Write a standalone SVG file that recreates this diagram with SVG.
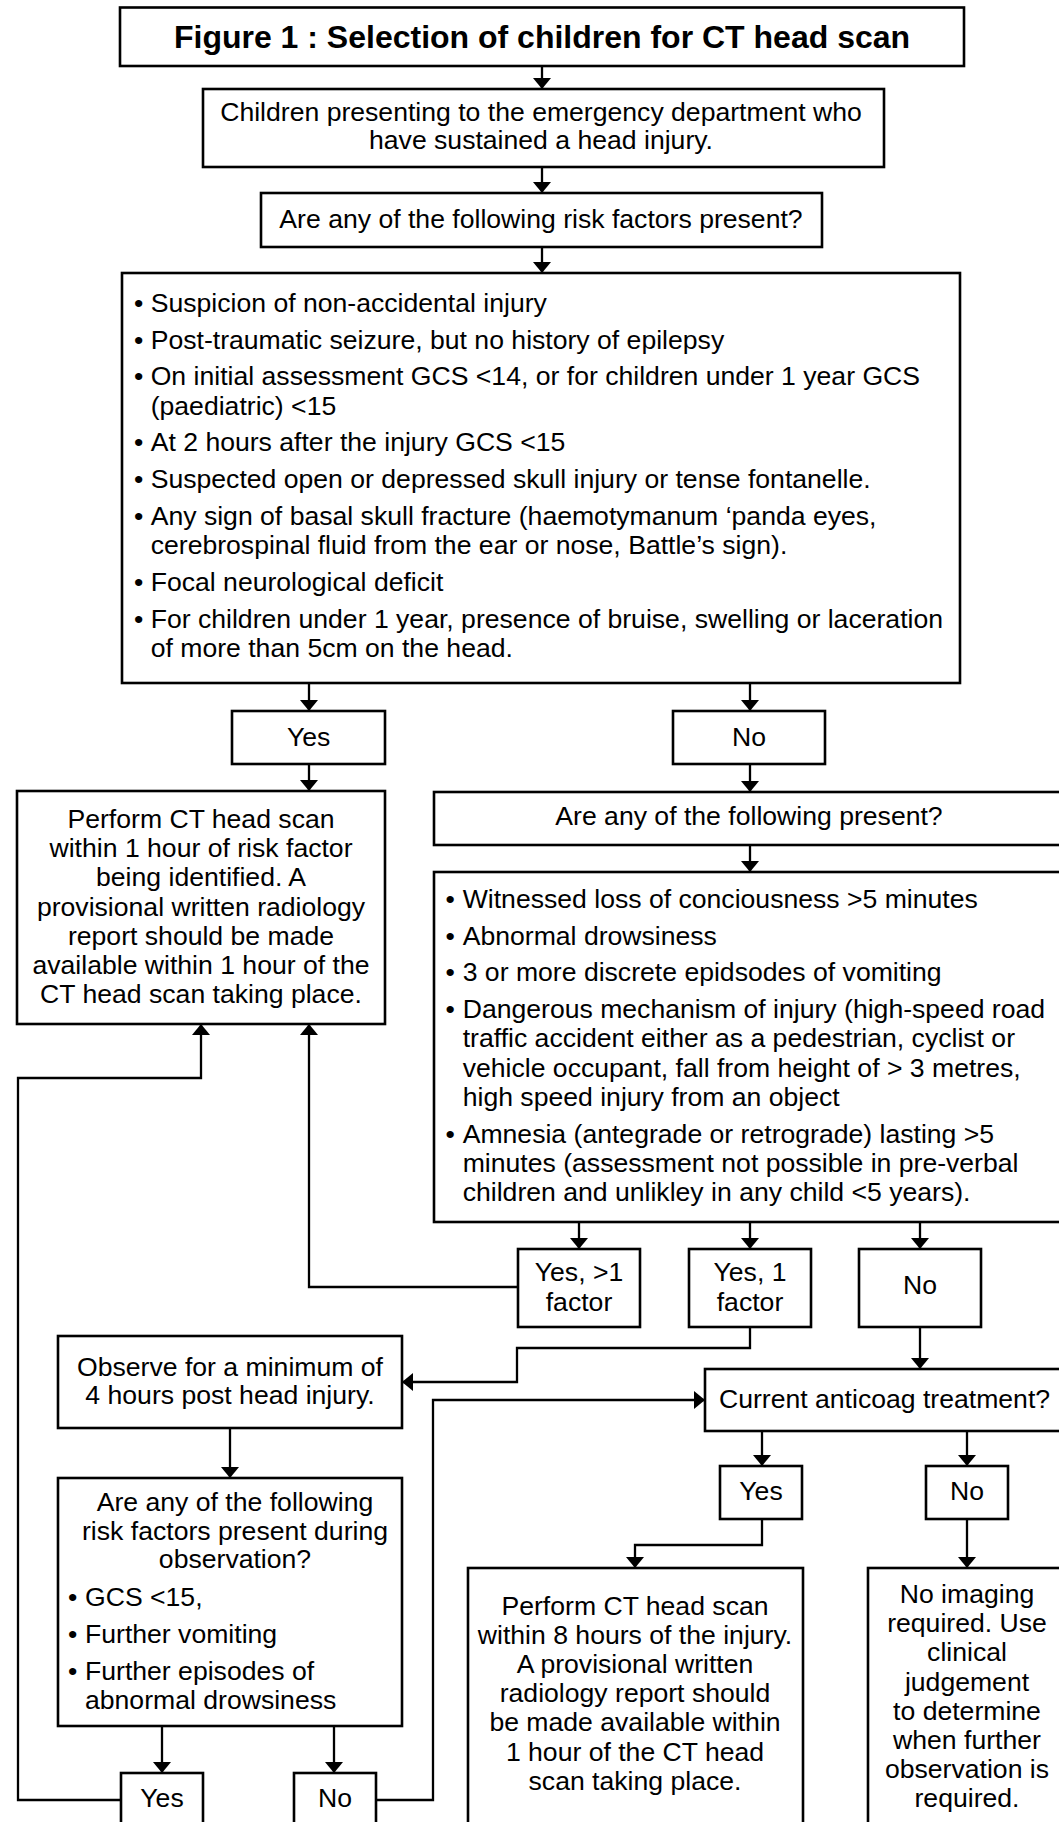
<svg xmlns="http://www.w3.org/2000/svg" width="1059" height="1822" viewBox="0 0 1059 1822">
<style>
.box{fill:#fff;stroke:#000;stroke-width:2.6}
.t{font-family:"Liberation Sans",Arial,sans-serif;font-size:26.6px;fill:#000}
.c{text-anchor:middle}
.title{font-weight:bold;font-size:32px}
.conn{fill:none;stroke:#000;stroke-width:2.3}
</style>
<defs>
<marker id="ah" markerUnits="userSpaceOnUse" markerWidth="12" markerHeight="18" refX="11" refY="9" orient="auto">
<path d="M0,0 L11,9 L0,18 Z" fill="#000"/>
</marker>
</defs>
<rect width="1059" height="1822" fill="#fff"/>

<g id="connectors">
<path class="conn" marker-end="url(#ah)" d="M542,66 V89"/>
<path class="conn" marker-end="url(#ah)" d="M542,167 V193"/>
<path class="conn" marker-end="url(#ah)" d="M542,247 V273"/>
<path class="conn" marker-end="url(#ah)" d="M309,683 V711"/>
<path class="conn" marker-end="url(#ah)" d="M750,683 V711"/>
<path class="conn" marker-end="url(#ah)" d="M309,764 V791"/>
<path class="conn" marker-end="url(#ah)" d="M750,764 V792"/>
<path class="conn" marker-end="url(#ah)" d="M750,845 V872"/>
<path class="conn" marker-end="url(#ah)" d="M579,1222 V1249"/>
<path class="conn" marker-end="url(#ah)" d="M750,1222 V1249"/>
<path class="conn" marker-end="url(#ah)" d="M920,1222 V1249"/>
<path class="conn" marker-end="url(#ah)" d="M518,1287 H309 V1024"/>
<path class="conn" marker-end="url(#ah)" d="M750,1327 V1348 H517 V1382 H402"/>
<path class="conn" marker-end="url(#ah)" d="M920,1327 V1369"/>
<path class="conn" marker-end="url(#ah)" d="M230,1428 V1478"/>
<path class="conn" marker-end="url(#ah)" d="M162,1726 V1773"/>
<path class="conn" marker-end="url(#ah)" d="M334,1726 V1773"/>
<path class="conn" marker-end="url(#ah)" d="M121,1800 H18 V1078 H201 V1024"/>
<path class="conn" marker-end="url(#ah)" d="M376,1800 H433 V1400 H705"/>
<path class="conn" marker-end="url(#ah)" d="M762,1431 V1466"/>
<path class="conn" marker-end="url(#ah)" d="M967,1431 V1466"/>
<path class="conn" marker-end="url(#ah)" d="M762,1519 V1545 H635 V1568"/>
<path class="conn" marker-end="url(#ah)" d="M967,1519 V1568"/>
</g>

<g id="n-title">
<rect class="box" x="120" y="7.5" width="844" height="58.5"/>
<text class="t c title" x="542" y="48.3">Figure 1 : Selection of children for CT head scan</text>
</g>

<g id="n-start">
<rect class="box" x="203" y="89" width="681" height="78"/>
<text class="t c" x="541" y="121">Children presenting to the emergency department who</text>
<text class="t c" x="541" y="149">have sustained a head injury.</text>
</g>

<g id="n-q1">
<rect class="box" x="261" y="193" width="561" height="54"/>
<text class="t c" x="541" y="228">Are any of the following risk factors present?</text>
</g>

<g id="n-risk1">
<rect class="box" x="122" y="273" width="838" height="410"/>
<text class="t" x="134" y="312">•</text><text class="t" x="150.7" y="312">Suspicion of non-accidental injury</text>
<text class="t" x="134" y="348.7">•</text><text class="t" x="150.7" y="348.7">Post-traumatic seizure, but no history of epilepsy</text>
<text class="t" x="134" y="385.4">•</text><text class="t" x="150.7" y="385.4">On initial assessment GCS &lt;14, or for children under 1 year GCS</text>
<text class="t" x="150.7" y="414.7">(paediatric) &lt;15</text>
<text class="t" x="134" y="451.4">•</text><text class="t" x="150.7" y="451.4">At 2 hours after the injury GCS &lt;15</text>
<text class="t" x="134" y="488.1">•</text><text class="t" x="150.7" y="488.1">Suspected open or depressed skull injury or tense fontanelle.</text>
<text class="t" x="134" y="524.8">•</text><text class="t" x="150.7" y="524.8">Any sign of basal skull fracture (haemotymanum ‘panda eyes,</text>
<text class="t" x="150.7" y="554.1">cerebrospinal fluid from the ear or nose, Battle’s sign).</text>
<text class="t" x="134" y="590.8">•</text><text class="t" x="150.7" y="590.8">Focal neurological deficit</text>
<text class="t" x="134" y="627.5">•</text><text class="t" x="150.7" y="627.5">For children under 1 year, presence of bruise, swelling or laceration</text>
<text class="t" x="150.7" y="656.8">of more than 5cm on the head.</text>
</g>

<g id="n-yes1">
<rect class="box" x="232" y="711" width="153" height="53"/>
<text class="t c" x="308.7" y="746">Yes</text>
</g>

<g id="n-no1">
<rect class="box" x="673" y="711" width="152" height="53"/>
<text class="t c" x="749" y="746">No</text>
</g>

<g id="n-ct1">
<rect class="box" x="17" y="791" width="368" height="233"/>
<text class="t c" x="201" y="828">Perform CT head scan</text>
<text class="t c" x="201" y="857">within 1 hour of risk factor</text>
<text class="t c" x="201" y="886">being identified. A</text>
<text class="t c" x="201" y="915.5">provisional written radiology</text>
<text class="t c" x="201" y="945">report should be made</text>
<text class="t c" x="201" y="974">available within 1 hour of the</text>
<text class="t c" x="201" y="1003">CT head scan taking place.</text>
</g>

<g id="n-q2">
<rect class="box" x="434" y="792" width="630" height="53"/>
<text class="t c" x="749" y="825">Are any of the following present?</text>
</g>

<g id="n-risk2">
<rect class="box" x="434" y="872" width="630" height="350"/>
<text class="t" x="445.4" y="908">•</text><text class="t" x="462.7" y="908">Witnessed loss of conciousness &gt;5 minutes</text>
<text class="t" x="445.4" y="944.7">•</text><text class="t" x="462.7" y="944.7">Abnormal drowsiness</text>
<text class="t" x="445.4" y="981.4">•</text><text class="t" x="462.7" y="981.4">3 or more discrete epidsodes of vomiting</text>
<text class="t" x="445.4" y="1018.1">•</text><text class="t" x="462.7" y="1018.1">Dangerous mechanism of injury (high-speed road</text>
<text class="t" x="462.7" y="1047.4">traffic accident either as a pedestrian, cyclist or</text>
<text class="t" x="462.7" y="1076.7">vehicle occupant, fall from height of &gt; 3 metres,</text>
<text class="t" x="462.7" y="1106">high speed injury from an object</text>
<text class="t" x="445.4" y="1142.7">•</text><text class="t" x="462.7" y="1142.7">Amnesia (antegrade or retrograde) lasting &gt;5</text>
<text class="t" x="462.7" y="1172">minutes (assessment not possible in pre-verbal</text>
<text class="t" x="462.7" y="1201.3">children and unlikley in any child &lt;5 years).</text>
</g>

<g id="n-yes-multi">
<rect class="box" x="518" y="1249" width="122" height="78"/>
<text class="t c" x="579" y="1281">Yes, &gt;1</text>
<text class="t c" x="579" y="1311">factor</text>
</g>

<g id="n-yes-one">
<rect class="box" x="689" y="1249" width="122" height="78"/>
<text class="t c" x="750" y="1281">Yes, 1</text>
<text class="t c" x="750" y="1311">factor</text>
</g>

<g id="n-no2">
<rect class="box" x="859" y="1249" width="122" height="78"/>
<text class="t c" x="920" y="1294">No</text>
</g>

<g id="n-observe">
<rect class="box" x="58" y="1336" width="344" height="92"/>
<text class="t c" x="230" y="1376">Observe for a minimum of</text>
<text class="t c" x="230" y="1404">4 hours post head injury.</text>
</g>

<g id="n-anticoag">
<rect class="box" x="705" y="1369" width="359" height="62"/>
<text class="t c" x="884.5" y="1408">Current anticoag treatment?</text>
</g>

<g id="n-risk3">
<rect class="box" x="58" y="1478" width="344" height="248"/>
<text class="t c" x="235" y="1511">Are any of the following</text>
<text class="t c" x="235" y="1540">risk factors present during</text>
<text class="t c" x="235" y="1568">observation?</text>
<text class="t" x="68" y="1605.5">•</text><text class="t" x="85" y="1605.5">GCS &lt;15,</text>
<text class="t" x="68" y="1642.5">•</text><text class="t" x="85" y="1642.5">Further vomiting</text>
<text class="t" x="68" y="1680">•</text><text class="t" x="85" y="1680">Further episodes of</text>
<text class="t" x="85" y="1709">abnormal drowsiness</text>
</g>

<g id="n-yes-ac">
<rect class="box" x="720" y="1466" width="82" height="53"/>
<text class="t c" x="761" y="1500">Yes</text>
</g>

<g id="n-no-ac">
<rect class="box" x="926" y="1466" width="82" height="53"/>
<text class="t c" x="967" y="1500">No</text>
</g>

<g id="n-ct8">
<rect class="box" x="468" y="1568" width="335" height="270"/>
<text class="t c" x="635" y="1614.5">Perform CT head scan</text>
<text class="t c" x="635" y="1643.7">within 8 hours of the injury.</text>
<text class="t c" x="635" y="1672.9">A provisional written</text>
<text class="t c" x="635" y="1702.1">radiology report should</text>
<text class="t c" x="635" y="1731.3">be made available within</text>
<text class="t c" x="635" y="1760.5">1 hour of the CT head</text>
<text class="t c" x="635" y="1789.7">scan taking place.</text>
</g>

<g id="n-noimg">
<rect class="box" x="868" y="1568" width="198" height="270"/>
<text class="t c" x="967" y="1603">No imaging</text>
<text class="t c" x="967" y="1632">required. Use</text>
<text class="t c" x="967" y="1661">clinical</text>
<text class="t c" x="967" y="1690.5">judgement</text>
<text class="t c" x="967" y="1720">to determine</text>
<text class="t c" x="967" y="1749">when further</text>
<text class="t c" x="967" y="1778">observation is</text>
<text class="t c" x="967" y="1807">required.</text>
</g>

<g id="n-yes3">
<rect class="box" x="121" y="1773" width="82" height="70"/>
<text class="t c" x="162" y="1807">Yes</text>
</g>

<g id="n-no3">
<rect class="box" x="294" y="1773" width="82" height="70"/>
<text class="t c" x="335" y="1807">No</text>
</g>
</svg>
